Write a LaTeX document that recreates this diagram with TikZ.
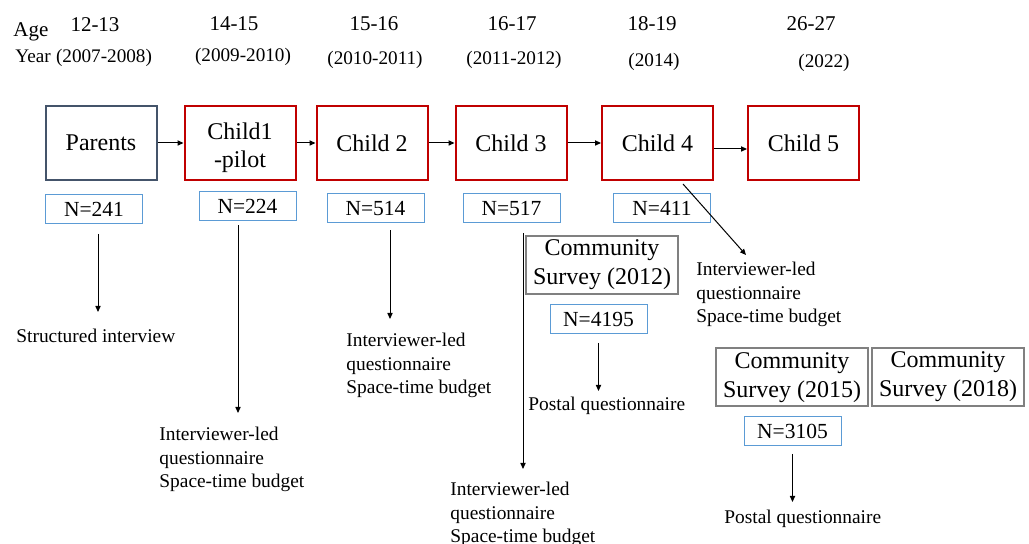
\documentclass[tikz,border=0pt]{standalone}
\usepackage{fontspec}
\setmainfont{Liberation Serif}
\usepackage{tikz}
\usetikzlibrary{arrows.meta,positioning,calc}
\definecolor{wred}{HTML}{C00000}
\definecolor{wslate}{HTML}{44546A}
\definecolor{wblue}{HTML}{5B9BD5}
\definecolor{wgray}{HTML}{808080}

\begin{document}
\begin{tikzpicture}[
  x=0.5pt,y=-0.5pt,
  wave/.style={draw=wred,line width=1pt,minimum width=55.5pt,minimum height=37pt,align=center,font=\fontsize{12}{14}\selectfont},
  parent/.style={wave,draw=wslate},
  count/.style={draw=wblue,line width=0.5pt,minimum width=48.5pt,minimum height=14.5pt,inner sep=0pt,font=\fontsize{10.75}{12}\selectfont},
  survey/.style={draw=wgray,line width=1pt,minimum width=76pt,minimum height=29pt,inner sep=1pt,align=center,font=\fontsize{12}{14.5}\selectfont},
  method/.style={anchor=north west,inner sep=0pt,align=left,font=\fontsize{9.7}{11.75}\selectfont},
  age/.style={anchor=base,inner sep=0pt,font=\fontsize{10.5}{12}\selectfont},
  year/.style={anchor=base,inner sep=0pt,font=\fontsize{9.6}{12}\selectfont},
  arrow/.style={-{Triangle[length=3pt,width=2.6pt]},line width=0.5pt}
]
\useasboundingbox (0,0) rectangle (1029,544);
% header rows
\node[age,anchor=base west] (agelab) at (13,37) {Age};
\node[year,anchor=base west] (yearlab) at (15,63) {Year};
\node[age] (a1) at (95,32) {12-13};
\node[age] (a2) at (234,31) {14-15};
\node[age] (a3) at (374,31) {15-16};
\node[age] (a4) at (512,31) {16-17};
\node[age] (a5) at (652,31) {18-19};
\node[age] (a6) at (811,31) {26-27};
\node[year] (y1) at (104,63) {(2007-2008)};
\node[year] (y2) at (243,62) {(2009-2010)};
\node[year] (y3) at (375,65) {(2010-2011)};
\node[year] (y4) at (514,65) {(2011-2012)};
\node[year] (y5) at (654,67) {(2014)};
\node[year] (y6) at (824,68) {(2022)};
% waves
\node[parent] (par) at (101,143) {Parents};
\node[wave,label={[align=center,font=\fontsize{12}{14}\selectfont,yshift=-2.5pt]center:Child1\\-pilot}] (c1) at (240,143) {};
\node[wave] (c2) at (372,143) {Child 2};
\node[wave] (c3) at (511,143) {Child 3};
\node[wave] (c4) at (657.5,143) {Child 4};
\node[wave] (c5) at (803.5,143) {Child 5};
\draw[arrow] (par)--(c1); \draw[arrow] (c1)--(c2); \draw[arrow] (c2)--(c3);
\draw[arrow] (c3)--(c4); \draw[arrow] ([yshift=-3pt]c4.east)--([yshift=-3pt]c5.west);
% sample sizes
\node[count] (n241) at (94,209) {N=241};
\node[count] (n224) at (247.5,206.5) {N=224};
\node[count] (n514) at (375.5,208.5) {N=514};
\node[count] (n517) at (511.5,208.5) {N=517};
\node[count] (n411) at (662,208.5) {N=411};
% community surveys
\node[survey] (cs12) at (602,265) {Community\\Survey (2012)};
\node[count] (n4195) at (598.5,319) {N=4195};
\node[survey] (cs15) at (792,377.5) {Community\\Survey (2015)};
\node[survey] (cs18) at (948,377) {Community\\Survey (2018)};
\node[count] (n3105) at (792.5,431) {N=3105};
% methods
\node[method] (m0) at (16,329) {Structured interview};
\node[method] (m1) at (159,427) {Interviewer-led\\questionnaire\\Space-time budget};
\node[method] (m2) at (346,333) {Interviewer-led\\questionnaire\\Space-time budget};
\node[method] (m3) at (450,482) {Interviewer-led\\questionnaire\\Space-time budget};
\node[method] (m4) at (696,262) {Interviewer-led\\questionnaire\\Space-time budget};
\node[method] (p12) at (528,397) {Postal questionnaire};
\node[method] (p15) at (724,510) {Postal questionnaire};
\draw[arrow] ($(n241.south)+(4,10)$) -- ($(n241.south |- m0.north)+(4,-17)$);
\draw[arrow] ($(n224.south)+(-9.5,4)$) -- ($(n224.south |- m1.north)+(-9.5,-14)$);
\draw[arrow] ($(n514.south)+(14.5,7)$) -- ($(n514.south |- m2.north)+(14.5,-14)$);
\draw[arrow] ($(n517.south)+(11.5,10)$) -- ($(n517.south |- m3.north)+(11.5,-13)$);
\draw[arrow] ($(c4.south)+(25.5,3)$) -- ($(m4.north west)+(50,-7)$);
\draw[arrow] ($(n4195.south)+(0,9)$) -- ($(n4195.south |- p12.north)+(0,-6)$);
\draw[arrow] ($(n3105.south)+(0,8)$) -- ($(n3105.south |- p15.north)+(0,-8)$);
\end{tikzpicture}
\end{document}
